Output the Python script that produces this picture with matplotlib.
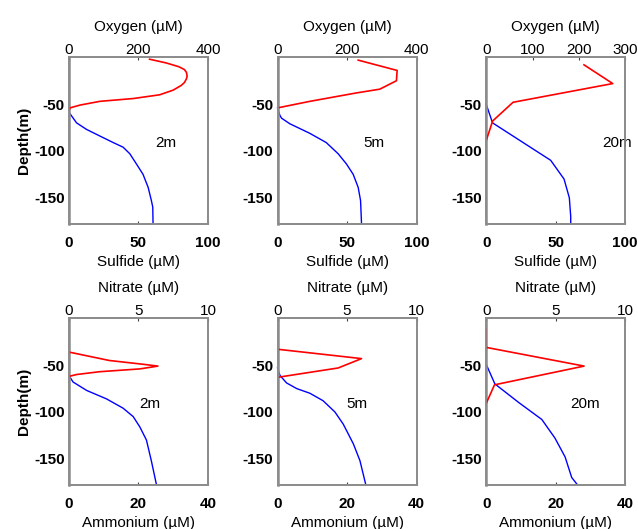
import numpy as np
import matplotlib
matplotlib.use("Agg")
import matplotlib.pyplot as plt

plt.rcParams["font.family"] = ["Liberation Sans", "DejaVu Sans"]
plt.rcParams["axes.unicode_minus"] = False

# --- top row: oxygen (top axis) and sulfide (bottom axis) ---
o2_2m_depth = [-2, -6, -10, -13, -16, -20, -23, -27, -30, -35, -40, -44, -47, -51, -54, -57]
o2_2m = [232, 280, 316, 332, 338, 340, 338, 332, 323, 300, 261, 185, 89, 32, 3, 0]
h2s_2m_depth = [-60, -70, -77, -84, -91, -96, -103, -114, -125, -139, -153, -160, -178]
h2s_2m = [0.7, 5.5, 12.7, 22.2, 31.8, 39, 43.8, 48.6, 53.3, 57, 59.3, 60.3, 60.5]

o2_5m_depth = [-3, -14, -25, -34, -38, -47, -54]
o2_5m = [232, 344, 342, 294, 227, 93, 0]
h2s_5m_depth = [-54, -62, -65, -71, -81, -91, -103, -114, -125, -139, -153, -178]
h2s_5m = [0, 1.7, 2.9, 8.9, 23, 35, 43.6, 49.6, 54.4, 58, 59.7, 60.4]

o2_20m_depth = [-8, -28, -48, -68, -88]
o2_20m = [211, 273, 58, 14, 0.7]
h2s_20m_depth = [-50, -70, -90, -110, -130, -150, -170, -178]
h2s_20m = [0, 4.6, 25.5, 46.4, 56, 59.8, 60.8, 60.8]

# --- bottom row: nitrate (top axis) and ammonium (bottom axis) ---
no3_2m_depth = [-36, -45, -49, -51, -54, -57, -60, -62]
no3_2m = [0, 2.9, 5.3, 6.4, 5.1, 2.2, 0.55, 0]
nh4_2m_depth = [-61, -68, -77, -86, -96, -105, -116, -130, -152, -178]
nh4_2m = [0, 1.2, 5.1, 10.8, 15.6, 18.5, 20.4, 22.3, 23.7, 25.2]

no3_5m_depth = [-33, -43, -53, -63]
no3_5m = [0, 6.04, 4.36, 0]
nh4_5m_depth = [-53, -61, -69, -75, -80, -88, -100, -113, -134, -152, -178]
nh4_5m = [0, 0.7, 2.6, 5.5, 9.3, 13.1, 16.5, 18.9, 21.8, 23.7, 25.4]

no3_20m_depth = [-11, -31, -51, -71, -91]
no3_20m = [0, 0, 7.04, 0.6, 0]
nh4_20m_depth = [-49, -70, -90, -108, -128, -148, -170, -178]
nh4_20m = [0, 2.5, 9.4, 16.0, 19.8, 22.7, 24.6, 26.3]

FRAME = "#8c8c8c"


def panel(pos, top_x, top_d, bot_x, bot_d, top_lim, top_ticks, bot_lim, bot_ticks,
          top_label, bot_label, tag, tag_x, ylabel=False):
    ax = fig.add_axes(pos)
    ax.plot(bot_x, bot_d, color="blue", lw=1.0, clip_on=False)
    ax.set_xlim(*bot_lim)
    ax.set_ylim(-178, 0)
    ax.set_xticks(bot_ticks)
    ax.set_yticks([-150, -100, -50])
    ax.tick_params(axis="x", direction="in", length=2, color="#444444", pad=9,
                   labelsize=11)
    ax.tick_params(axis="y", direction="in", length=0, pad=3, labelsize=11)
    for lab in ax.get_xticklabels() + ax.get_yticklabels():
        lab.set_fontweight("bold")
    ax.set_xlabel(bot_label, fontsize=11, labelpad=3)
    if ylabel:
        ax.set_ylabel("Depth(m)", fontsize=11, fontweight="bold", labelpad=2)
    ax.text(tag_x, -91, tag, transform=ax.get_yaxis_transform(), fontsize=11,
            ha="center", va="center")

    # second x axis on top, sharing depth
    ax2 = ax.twiny()
    ax2.plot(top_x, top_d, color="red", lw=1.2)
    ax2.set_xlim(*top_lim)
    ax2.set_xticks(top_ticks)
    ax2.tick_params(axis="x", direction="in", length=2, color="#444444", pad=0,
                    labelsize=11)
    ax2.set_xlabel(top_label, fontsize=11, labelpad=9)
    for a in (ax, ax2):
        for sp in a.spines.values():
            sp.set_color(FRAME)
            sp.set_linewidth(1.3)
    ax.spines["left"].set_linewidth(1.8)
    return ax


fig = plt.figure(figsize=(6.38, 5.29), dpi=100)

lefts = [0.108, 0.435, 0.762]
w = 0.218
top_row = 0.5766
bot_row = 0.0832
h = 0.315

panel([lefts[0], top_row, w, h], o2_2m, o2_2m_depth, h2s_2m, h2s_2m_depth,
      (0, 400), [0, 200, 400], (0, 100), [0, 50, 100],
      "Oxygen (\u00b5M)", "Sulfide (\u00b5M)", "2m", 0.70, ylabel=True)
panel([lefts[1], top_row, w, h], o2_5m, o2_5m_depth, h2s_5m, h2s_5m_depth,
      (0, 400), [0, 200, 400], (0, 100), [0, 50, 100],
      "Oxygen (\u00b5M)", "Sulfide (\u00b5M)", "5m", 0.69)
panel([lefts[2], top_row, w, h], o2_20m, o2_20m_depth, h2s_20m, h2s_20m_depth,
      (0, 300), [0, 100, 200, 300], (0, 100), [0, 50, 100],
      "Oxygen (\u00b5M)", "Sulfide (\u00b5M)", "20m", 0.94)

panel([lefts[0], bot_row, w, h], no3_2m, no3_2m_depth, nh4_2m, nh4_2m_depth,
      (0, 10), [0, 5, 10], (0, 40), [0, 20, 40],
      "Nitrate (\u00b5M)", "Ammonium (\u00b5M)", "2m", 0.58, ylabel=True)
panel([lefts[1], bot_row, w, h], no3_5m, no3_5m_depth, nh4_5m, nh4_5m_depth,
      (0, 10), [0, 5, 10], (0, 40), [0, 20, 40],
      "Nitrate (\u00b5M)", "Ammonium (\u00b5M)", "5m", 0.57)
panel([lefts[2], bot_row, w, h], no3_20m, no3_20m_depth, nh4_20m, nh4_20m_depth,
      (0, 10), [0, 5, 10], (0, 40), [0, 20, 40],
      "Nitrate (\u00b5M)", "Ammonium (\u00b5M)", "20m", 0.71)

fig.savefig("out.png", dpi=100)
